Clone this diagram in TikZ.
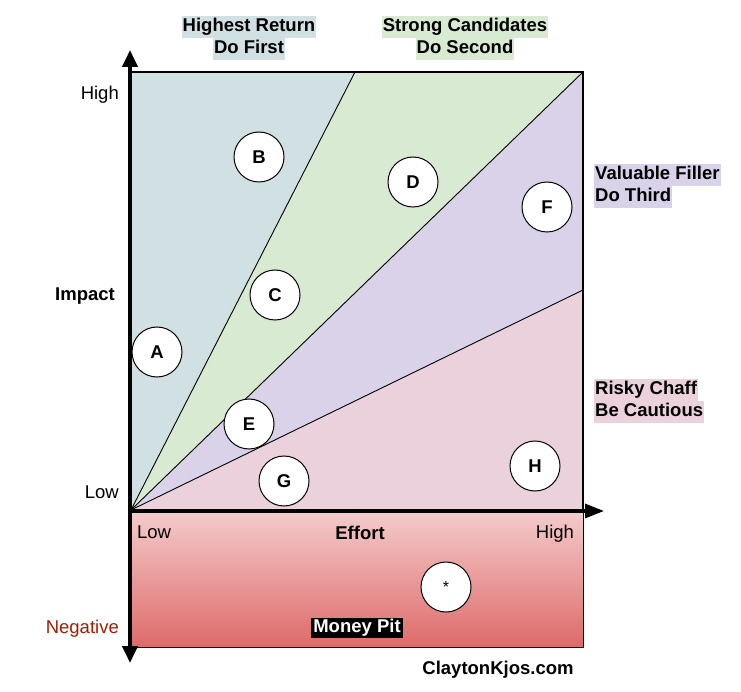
\documentclass[tikz,border=0pt]{standalone}
\usepackage{fontspec}
\setmainfont{Liberation Sans}
\usetikzlibrary{arrows.meta}
\definecolor{cblue}{HTML}{D0E0E3}
\definecolor{cgreen}{HTML}{D9EAD3}
\definecolor{cpurple}{HTML}{D9D2E9}
\definecolor{cpink}{HTML}{EAD1DC}
\definecolor{redtop}{HTML}{F4CCCC}
\definecolor{redbot}{HTML}{DE6A6A}
\definecolor{negred}{HTML}{A61C00}
\begin{document}
\begin{tikzpicture}[x=1pt,y=-1pt,
  every node/.style={font=\fontsize{18.5}{22}\selectfont},
  divline/.style={draw=black, line width=0.9pt},
  item/.style={circle, draw=black, line width=1pt, fill=white, minimum size=50pt, inner sep=0pt, font=\fontsize{18.5}{22}\selectfont\bfseries},
  hl/.style={inner xsep=1pt, inner ysep=2.5pt, text height=13.5pt, text depth=4pt, font=\fontsize{18.5}{22}\selectfont\bfseries},
  plain/.style={inner sep=0pt},
  boldlab/.style={inner sep=0pt, font=\fontsize{18.5}{22}\selectfont\bfseries}
]
\useasboundingbox (0,0) rectangle (741,692);
% corner coordinates
\coordinate (O) at (131,510);
\coordinate (TL) at (131,72);
\coordinate (TM) at (355,72);
\coordinate (TR) at (583,72);
\coordinate (RM) at (583,290);
\coordinate (BR) at (583,510);
\coordinate (PB) at (583,647);
% regions
\fill[cblue] (O) -- (TL) -- (TM) -- cycle;
\fill[cgreen] (O) -- (TM) -- (TR) -- cycle;
\fill[cpurple] (O) -- (TR) -- (RM) -- cycle;
\fill[cpink] (O) -- (RM) -- (BR) -- cycle;
\shade[top color=redtop, bottom color=redbot] (O) rectangle (PB);
\draw[line width=0.9pt] (O) rectangle (PB);
\draw[divline] (O) -- (TM);
\draw[divline] (O) -- (TR);
\draw[divline] (O) -- (RM);
\draw[line width=2.2pt] (TL) -- (TR) -- (BR);
% axes
\coordinate (ytop) at (130,50);
\coordinate (ybot) at (130,663);
\coordinate (xleft) at (128,511);
\coordinate (xright) at (604,511);
\draw[line width=4pt, {Triangle[width=15pt,length=17pt]}-{Triangle[width=15pt,length=17pt]}] (ytop) -- (ybot);
\draw[line width=3.2pt, -{Triangle[width=14pt,length=19pt]}] (xleft) -- (xright);
% items
\node[item] (A) at (157,352) {A};
\node[item] (B) at (259,157) {B};
\node[item] (C) at (275,295) {C};
\node[item] (D) at (413,182) {D};
\node[item] (E) at (249,424) {E};
\node[item] (F) at (547,207) {F};
\node[item] (G) at (284,481) {G};
\node[item] (H) at (535,466) {H};
\node[item, font=\fontsize{16}{18}\selectfont] (S) at (446,587) {*};
% category labels
\node[hl, fill=cblue] (hr1) at (249,27) {Highest Return};
\node[hl, fill=cblue] (hr2) at (249,49) {Do First};
\node[hl, fill=cgreen] (sc1) at (465,27) {Strong Candidates};
\node[hl, fill=cgreen] (sc2) at (465,49) {Do Second};
\node[hl, fill=cpurple, anchor=west] (vf1) at (594,175) {Valuable Filler};
\node[hl, fill=cpurple, anchor=west] (vf2) at (594,197) {Do Third};
\node[hl, fill=cpink, anchor=west] (rc1) at (594,390) {Risky Chaff};
\node[hl, fill=cpink, anchor=west] (rc2) at (594,412) {Be Cautious};
% axis labels
\node[plain, anchor=east] (yhigh) at (119,95) {High};
\node[plain, anchor=east] (ylow) at (119,492) {Low};
\node[boldlab] (impact) at (85,296) {Impact};
\node[plain, anchor=east, text=negred] (neg) at (119,629) {Negative};
\node[plain] (xlow) at (154,532) {Low};
\node[boldlab] (effort) at (360,533) {Effort};
\node[plain] (xhigh) at (555,534) {High};
\node[hl, fill=black, text=white, inner xsep=2.5pt, inner ysep=1.5pt] (pit) at (357,628) {Money Pit};
\node[boldlab] (site) at (498,670) {ClaytonKjos.com};
\end{tikzpicture}
\end{document}
